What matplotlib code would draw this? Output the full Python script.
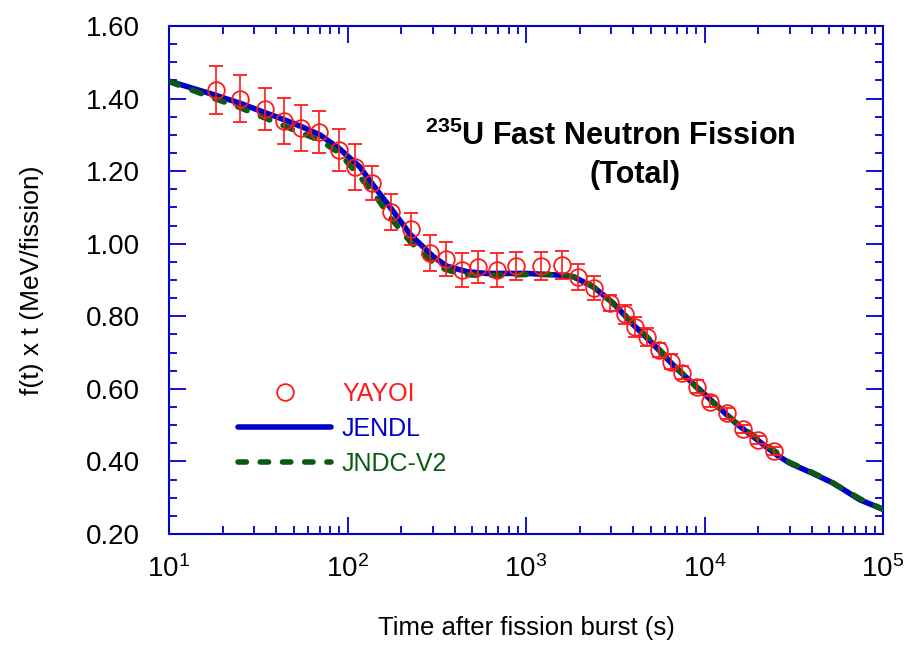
import numpy as np
import matplotlib
matplotlib.use("Agg")
import matplotlib.pyplot as plt
from matplotlib.lines import Line2D
from matplotlib.ticker import FixedLocator, FormatStrFormatter, LogLocator

plt.rcParams['font.family'] = ['Liberation Sans', 'DejaVu Sans']
plt.rcParams['mathtext.fontset'] = 'custom'
plt.rcParams['mathtext.rm'] = 'Liberation Sans'
plt.rcParams['mathtext.bf'] = 'Liberation Sans:bold'

# YAYOI measurement (time s, f(t) x t, error)
yayoi_t = [18.3, 25, 34.5, 44, 54.7, 69, 89.6, 110, 138, 176, 226, 290, 355, 440,
           538, 690, 875, 1209, 1584, 1963, 2404, 2944, 3590, 4085, 4790, 5560,
           6470, 7520, 9120, 10740, 13430, 16450, 20000, 24500]
yayoi_v = [1.424, 1.399, 1.371, 1.339, 1.318, 1.309, 1.258, 1.212, 1.168, 1.087,
           1.041, 0.974, 0.957, 0.928, 0.937, 0.928, 0.939, 0.939, 0.941, 0.909,
           0.877, 0.836, 0.806, 0.771, 0.742, 0.707, 0.675, 0.645, 0.606, 0.565,
           0.533, 0.489, 0.459, 0.429]
yayoi_err = [0.066, 0.065, 0.058, 0.063, 0.063, 0.058, 0.058, 0.063, 0.047, 0.050,
             0.044, 0.050, 0.047, 0.047, 0.044, 0.047, 0.039, 0.039, 0.039, 0.036,
             0.033, 0.022, 0.026, 0.028, 0.025, 0.020, 0.020, 0.018, 0.018, 0.015,
             0.015, 0.012, 0.012, 0.010]

# JENDL summation curve
jendl_t = [10, 18, 25, 35, 44, 55, 70, 90, 117, 140, 181, 225, 303, 360, 466, 600,
           1010, 1600, 1842, 2383, 3085, 4000, 5000, 7000, 9440, 15000, 25350,
           30100, 40000, 52700, 74300, 100000]
jendl_v = [1.448, 1.410, 1.387, 1.360, 1.342, 1.323, 1.300, 1.262, 1.212, 1.160,
           1.088, 1.025, 0.964, 0.938, 0.923, 0.918, 0.918, 0.913, 0.909, 0.881,
           0.836, 0.776, 0.730, 0.655, 0.597, 0.505, 0.418, 0.395, 0.368, 0.340,
           0.294, 0.268]

# JNDC-V2 summation curve
jndc_t = [10, 18, 25, 35, 44, 55, 70, 90, 110, 140, 175, 225, 290, 350, 440, 600,
          1000, 1600, 2000, 2400, 3000, 4000, 5000, 7000, 10000, 15000, 25000,
          30000, 40000, 50000, 75000, 100000]
jndc_v = [1.447, 1.400, 1.375, 1.345, 1.325, 1.305, 1.285, 1.250, 1.200, 1.140,
          1.070, 1.005, 0.955, 0.930, 0.915, 0.912, 0.915, 0.915, 0.905, 0.880,
          0.840, 0.780, 0.733, 0.658, 0.582, 0.507, 0.427, 0.397, 0.370, 0.346,
          0.296, 0.268]

y_ticks = [0.20, 0.40, 0.60, 0.80, 1.00, 1.20, 1.40, 1.60]

blue = '#0000cc'
green = '#0a5a14'
red = '#ff1a1a'

fig = plt.figure(figsize=(9.14, 6.46), dpi=100)
ax = fig.add_axes([0.1849, 0.1734, 0.7812, 0.7864])

ax.plot(jendl_t, jendl_v, color=blue, lw=4, solid_capstyle='round', zorder=2)
ax.plot(jndc_t, jndc_v, color=green, lw=4, dashes=(1.8, 2.6),
        dash_capstyle='round', zorder=3)
ax.errorbar(yayoi_t, yayoi_v, yerr=yayoi_err, fmt='o', ms=12, mfc='none',
            mec=red, mew=1.3, ecolor=red, elinewidth=1.2, capsize=4.7,
            capthick=1.2, zorder=4)

ax.set_xscale('log')
ax.set_xlim(10, 1e5)
ax.set_ylim(0.2, 1.6)
ax.yaxis.set_major_locator(FixedLocator(y_ticks))
ax.yaxis.set_minor_locator(FixedLocator(np.arange(0.2, 1.6001, 0.05)))
ax.yaxis.set_major_formatter(FormatStrFormatter('%.2f'))
ax.xaxis.set_minor_locator(LogLocator(base=10, subs=np.arange(2, 10), numticks=20))

for s in ax.spines.values():
    s.set_color(blue)
    s.set_linewidth(1.5)
ax.tick_params(which='both', direction='in', color=blue, top=True, right=True, width=1.3)
ax.tick_params(which='major', length=12)
ax.tick_params(which='minor', length=6)
ax.tick_params(axis='y', labelsize=20, pad=21)
ax.tick_params(axis='x', labelsize=20, pad=15)

ax.set_xlabel('Time after fission burst (s)', fontsize=18.5, labelpad=24)
ax.set_ylabel('f(t) x t (MeV/fission)', fontsize=19, labelpad=30)

ax.text(0.3585, 0.766, r'$\mathbf{{}^{235}}$U Fast Neutron Fission', transform=ax.transAxes,
        fontsize=22, fontweight='bold', ha='left', va='baseline')
ax.text(0.653, 0.691, '(Total)', transform=ax.transAxes,
        fontsize=22, fontweight='bold', ha='center', va='baseline')

handles = [Line2D([], [], ls='none', marker='o', ms=12, mfc='none', mec=red, mew=1.3),
           Line2D([], [], color=blue, lw=4, solid_capstyle='round'),
           Line2D([], [], color=green, lw=4, dashes=(1.5, 2.5), dash_capstyle='round')]
leg = ax.legend(handles, ['YAYOI', 'JENDL', 'JNDC-V2'], loc='upper left',
                bbox_to_anchor=(0.097, 0.30), frameon=False, fontsize=18,
                handlelength=3.7, handletextpad=0.45, labelspacing=0.45,
                borderpad=0, borderaxespad=0)
for txt, c in zip(leg.get_texts(), [red, blue, green]):
    txt.set_color(c)

fig.savefig('out.png', dpi=100)
